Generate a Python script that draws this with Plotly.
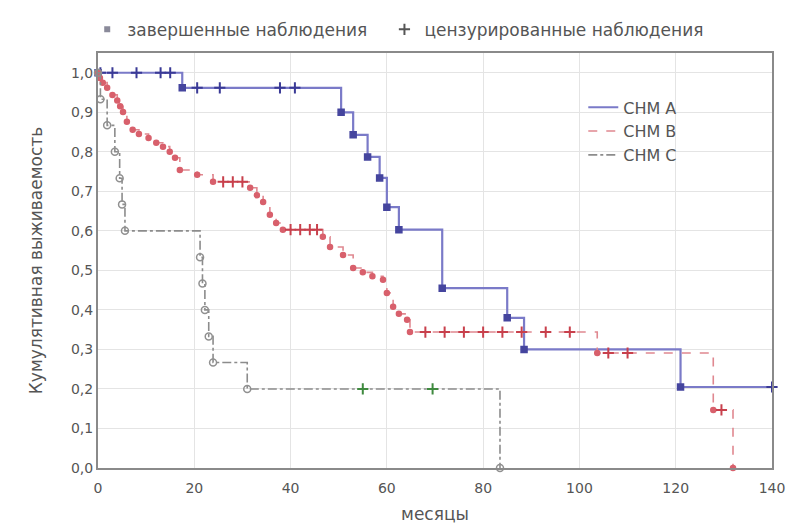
import plotly.graph_objects as go

# ---------------- data ----------------
# group A: event times (months) and survival after each event
A_event_t = [0, 17.5, 50.5, 53, 56, 58.5, 60, 62.5, 71.5, 85, 88.5, 121]
A_event_s = [1.0, 0.962, 0.90, 0.843, 0.787, 0.734, 0.66, 0.603, 0.455, 0.38, 0.30, 0.205]
A_cens_t = [0.5, 3, 8, 13, 15, 20.6, 25.3, 37.8, 40.9, 140]
A_cens_s = [1.0, 1.0, 1.0, 1.0, 1.0, 0.962, 0.962, 0.962, 0.962, 0.205]

# group B
B_event_t = [0, 0.4, 1, 1.9, 3, 4, 4.6, 5.2, 6.0, 7.2, 8.5, 10.5, 12.1, 13.5, 14.9, 16, 17,
             20.6, 23.9, 31.6, 33, 34.3, 35.7, 37, 38.4, 46.7, 48.2, 50.9, 53, 55, 57, 59.2,
             60, 61.3, 62.5, 64.2, 64.8, 103.7, 127.8, 131.9]
B_event_s = [1.0, 0.987, 0.975, 0.962, 0.944, 0.93, 0.915, 0.901, 0.876, 0.856, 0.845, 0.835,
             0.823, 0.813, 0.80, 0.785, 0.754, 0.742, 0.724, 0.709, 0.69, 0.673, 0.641, 0.62,
             0.603, 0.585, 0.559, 0.539, 0.506, 0.495, 0.485, 0.476, 0.443, 0.408, 0.39, 0.375,
             0.344, 0.291, 0.147, 0.0]
B_cens_t = [26, 28, 30, 40, 42, 44, 45.5, 68, 72, 76, 80, 84, 88, 93, 98, 106, 110, 129.5]
B_cens_s = [0.724, 0.724, 0.724, 0.603, 0.603, 0.603, 0.603, 0.344, 0.344, 0.344, 0.344,
            0.344, 0.344, 0.344, 0.344, 0.291, 0.291, 0.147]

# group C
C_event_t = [0, 0.5, 1.9, 3.5, 4.5, 5, 5.6, 21.2, 21.7, 22.2, 23, 23.9, 31, 83.5]
C_event_s = [1.0, 0.933, 0.867, 0.80, 0.733, 0.667, 0.60, 0.533, 0.467, 0.40, 0.333, 0.267,
             0.20, 0.0]
C_cens_t = [55, 69.5]
C_cens_s = [0.20, 0.20]

group_names = ["СНМ A", "СНМ B", "СНМ C"]
marker_names = ["завершенные наблюдения", "цензурированные наблюдения"]
x_ticks = [0, 20, 40, 60, 80, 100, 120, 140]
y_ticks = [0.0, 0.1, 0.2, 0.3, 0.4, 0.5, 0.6, 0.7, 0.8, 0.9, 1.0]
x_title = "месяцы"
y_title = "Кумулятивная выживаемость"

FONT = "DejaVu Sans"
TXT = "#555555"

fig = go.Figure()

def add_group(name, et, es, ct, cs, lcolor, dash, lwidth, ecol, esym, esize, ccol):
    # extend the last step to the last censored time if it is later
    xs = list(et)
    ys = list(es)
    if ct and max(ct) > xs[-1]:
        xs.append(max(ct))
        ys.append(ys[-1])
    fig.add_trace(go.Scatter(
        x=xs, y=ys, mode="lines", line=dict(color=lcolor, dash=dash, width=lwidth, shape="hv"),
        name=name, legend="legend", showlegend=True, hoverinfo="skip"))
    fig.add_trace(go.Scatter(
        x=et, y=es, mode="markers",
        marker=dict(symbol=esym, size=esize, color=ecol, line=dict(color=ecol, width=1.5)),
        showlegend=False, cliponaxis=False))
    fig.add_trace(go.Scatter(
        x=ct, y=cs, mode="markers",
        marker=dict(symbol="cross-thin", size=8, color=ccol, line=dict(color=ccol, width=2)),
        showlegend=False, cliponaxis=False))

add_group(group_names[0], A_event_t, A_event_s, A_cens_t, A_cens_s,
          "#7a7ac8", "solid", 2.2, "#45459e", "square", 6, "#3a3a96")
add_group(group_names[1], B_event_t, B_event_s, B_cens_t, B_cens_s,
          "#e08890", "dash", 1.6, "#d8606c", "circle", 5, "#c8404c")
add_group(group_names[2], C_event_t, C_event_s, C_cens_t, C_cens_s,
          "#8c8c8c", "dashdot", 1.6, "#909090", "circle-open", 7, "#3f8a3f")

# top legend entries (marker type explanation)
fig.add_trace(go.Scatter(x=[None], y=[None], mode="markers", name=marker_names[0],
                         marker=dict(symbol="square", size=6, color="#8a8a9a"),
                         legend="legend2"))
fig.add_trace(go.Scatter(x=[None], y=[None], mode="markers", name=marker_names[1],
                         marker=dict(symbol="cross-thin", size=8, color="#555555",
                                     line=dict(color="#555555", width=2)),
                         legend="legend3"))

top_legend = dict(orientation="h", y=1.056, xanchor="left", yanchor="middle",
                  bgcolor="rgba(0,0,0,0)", font=dict(size=17, color=TXT))

fig.update_layout(
    width=792, height=524,
    margin=dict(l=98, r=20, t=53, b=56, autoexpand=False),
    paper_bgcolor="white", plot_bgcolor="white",
    separators=", ",
    font=dict(family=FONT, size=13, color=TXT),
    legend=dict(x=0.72, y=0.91, xanchor="left", yanchor="top",
                bgcolor="rgba(0,0,0,0)", font=dict(size=16, color=TXT),
                itemwidth=30, tracegroupgap=0),
    legend2=dict(top_legend, x=-0.016),
    legend3=dict(top_legend, x=0.425),
    xaxis=dict(range=[0, 140], tickvals=x_ticks, showgrid=True, gridcolor="#e4e4e4",
               gridwidth=1, zeroline=False, showline=True, linecolor="#8a8a8a",
               linewidth=2, mirror=True, ticks="", tickfont=dict(size=14, color=TXT),
               ticklabelstandoff=6,
               title=dict(text=x_title, font=dict(size=17, color=TXT), standoff=16),
               automargin=False),
    yaxis=dict(range=[0, 1.05], tickvals=y_ticks, tickformat=".1f", showgrid=True,
               gridcolor="#e4e4e4", gridwidth=1, zeroline=False, showline=True,
               linecolor="#8a8a8a", linewidth=2, mirror=True, ticks="",
               tickfont=dict(size=14, color=TXT),
               title=dict(text=y_title, font=dict(size=17, color=TXT), standoff=24),
               automargin=False),
)

fig.write_html("out.html", config={"displayModeBar": False},
               post_script="document.body.style.margin='0';document.body.style.overflow='hidden';")
